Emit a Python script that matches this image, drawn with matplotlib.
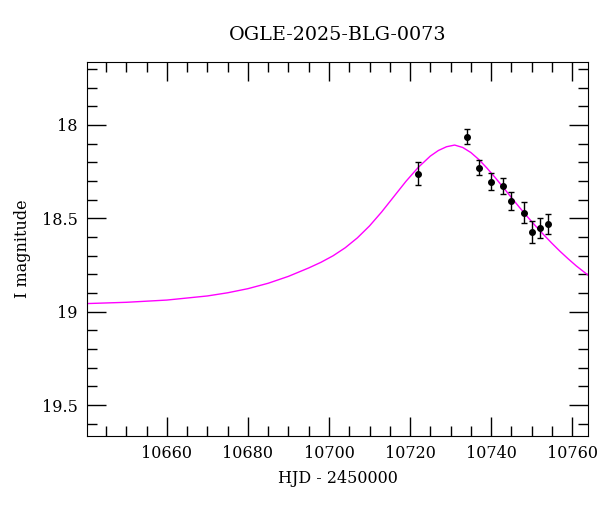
import numpy as np
import matplotlib.pyplot as plt
from matplotlib.ticker import MultipleLocator, FormatStrFormatter

# observed points (HJD - 2450000, I mag, error)
hjd = [10722.0, 10734.1, 10737.0, 10740.0, 10743.0, 10745.0, 10748.0, 10750.1, 10752.1, 10754.1]
mag = [18.262, 18.063, 18.230, 18.305, 18.325, 18.407, 18.470, 18.573, 18.552, 18.530]
err = [0.062, 0.039, 0.040, 0.046, 0.043, 0.047, 0.056, 0.060, 0.051, 0.054]

# model curve
model_hjd = [10640, 10650, 10660, 10670, 10675, 10680, 10685, 10690, 10695, 10698,
             10701, 10704, 10707, 10710, 10713, 10716, 10719, 10722, 10725, 10727,
             10729, 10731, 10733, 10735, 10737, 10739, 10741, 10743, 10745, 10747,
             10749, 10751, 10753, 10755, 10757, 10759, 10761, 10764]
model_mag = [18.957, 18.950, 18.938, 18.916, 18.899, 18.877, 18.848, 18.811, 18.766, 18.736,
             18.701, 18.658, 18.605, 18.541, 18.466, 18.384, 18.302, 18.228, 18.167, 18.137,
             18.117, 18.108, 18.121, 18.148, 18.186, 18.232, 18.282, 18.335, 18.389, 18.442,
             18.493, 18.542, 18.589, 18.634, 18.677, 18.717, 18.755, 18.806]

plt.rcParams['font.family'] = 'DejaVu Serif'
plt.rcParams['font.size'] = 11.5

fig = plt.figure(figsize=(6, 5.12), dpi=100)
ax = fig.add_axes([0.145, 0.1484, 0.835, 0.7306])

ax.plot(model_hjd, model_mag, color='#ff00ff', lw=1)
ax.errorbar(hjd, mag, yerr=err, fmt='o', color='black', ms=4, elinewidth=1, capsize=2.2, capthick=1)

ax.set_xlim(10640.3, 10763.9)
ax.set_ylim(19.666, 17.663)
ax.xaxis.set_major_locator(MultipleLocator(20))
ax.xaxis.set_minor_locator(MultipleLocator(5))
ax.yaxis.set_major_locator(MultipleLocator(0.5))
ax.yaxis.set_minor_locator(MultipleLocator(0.1))
ax.yaxis.set_major_formatter(FormatStrFormatter('%g'))
ax.tick_params(which='both', direction='in', top=True, right=True, width=1)
ax.tick_params(which='major', length=14, pad=6.5)
ax.tick_params(which='minor', length=7)

ax.set_xlabel('HJD - 2450000', labelpad=6)
ax.set_ylabel('I magnitude', labelpad=8)
ax.set_title('OGLE-2025-BLG-0073', pad=16)

fig.savefig('out.png', dpi=100)
